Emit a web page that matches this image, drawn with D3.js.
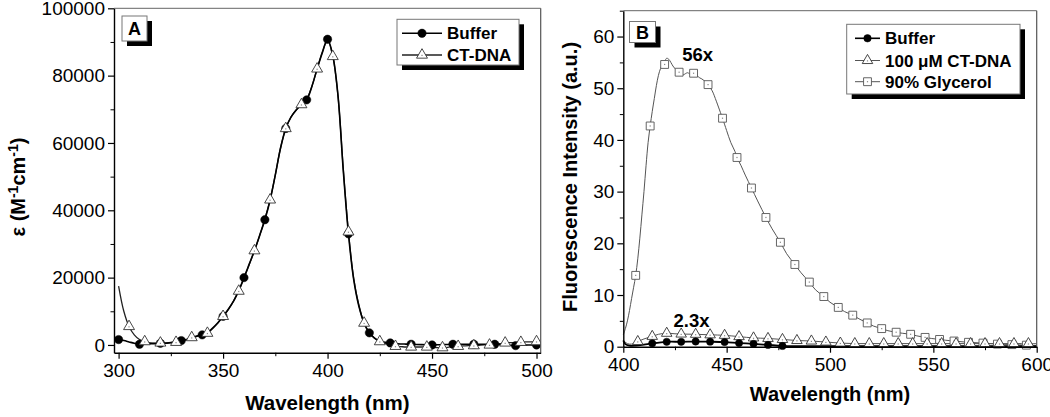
<!DOCTYPE html>
<html><head><meta charset="utf-8">
<script src="https://cdn.jsdelivr.net/npm/d3@7/dist/d3.min.js"></script>
<style>
body{margin:0;background:#fff}
svg{display:block}
text{font-family:Arial,"Liberation Sans",Helvetica,sans-serif;fill:#000}
</style>
</head><body>
<svg id="c" width="1050" height="417"></svg>
<script>
// ---------------- Panel A data (absorption) ----------------
const wavelengthA = [300,302.5,305,307.5,310,312.5,315,317.5,320,322.5,325,327.5,330,332.5,335,337.5,340,342.5,345,347.5,
  350,352.5,355,357.5,360,362.5,365,367.5,370,372.5,375,377.5,380,382.5,385,387.5,390,392.5,395,397.5,
  400,402.5,405,407.5,410,412.5,415,417.5,420,422.5,425,427.5,430,432.5,435,437.5,440,442.5,445,447.5,
  450,452.5,455,457.5,460,462.5,465,467.5,470,472.5,475,477.5,480,482.5,485,487.5,490,492.5,495,497.5,500];
const bufferA = [1600,1300,900,500,200,300,400,400,500,500,700,900,1300,1600,2100,2600,3000,3600,5000,6600,
  8500,10600,13000,16200,20000,24000,28000,32500,37200,43000,50500,58500,64300,67700,69800,71400,72800,76800,82000,86800,
  90800,86000,74000,52000,33000,19500,11500,6500,3600,2000,1100,800,600,400,300,250,200,150,100,50,
  0,50,100,150,200,200,200,200,200,200,200,200,200,100,0,-100,-200,-100,-50,0,0];
const ctdnaA = [17500,10000,5500,3000,1600,1000,600,500,600,600,700,800,1200,1600,2200,2700,3100,3500,4900,6500,
  8500,10500,13000,16000,19800,23800,28000,32500,37500,43100,50500,58500,64300,67700,69800,71400,73000,76800,82000,87000,
  90500,85700,74000,52500,33600,19800,11800,6500,3600,2000,1000,500,100,-400,-500,-600,-600,-600,-600,-600,
  -700,-800,-800,-700,-500,-400,-300,-200,-200,-100,0,0,200,400,600,700,700,800,900,900,1000];
const bufferAMarks = [300,310,320,330,340,350,360,370,380,390,400,410,420,430,440,450,460,470,480,490,500];
const ctdnaAMarks = [305,312.5,320,327.5,335,342.5,350,357.5,365,372.5,380,387.5,395,402.5,410,417.5,425,432.5,440,447.5,455,462.5,470,477.5,485,492.5,500];
const xTicksA = [300,350,400,450,500];
const xMinorA = [325,375,425,475];
const yTicksA = [0,20000,40000,60000,80000,100000];
const yMinorA = [10000,30000,50000,70000,90000];
const legendA = ["Buffer","CT-DNA"];

// ---------------- Panel B data (fluorescence) ----------------
const glyWl = [400,401,402,403,404,405,406,407,408,409,410,411,412,413,414,415,416,417,418,419,420,421,422,423,424,425,426,427,428,429,
  430,431,432,433,434,435,436,437,438,439,440,441,443,445,447,448,450,452,454,455,457,459,462,465,469,472,476,479,483,486,
  490,493,497,500,504,507,511,514,518,521,525,528,532,535,539,542,546,549,553,556,560,567,574,581,588,595,600];
const glyVal = [2.3,3.5,5,7,9.3,11.5,13.8,17,21,25.5,30,35,39.5,42.7,45.5,48,50.5,52.5,53.8,54.6,55.2,55.8,55.6,55,54.3,53.8,53.4,53.1,52.8,52.6,
  52.8,53,52.8,52.5,52.7,52.4,52.3,52,51.8,51.5,51.2,50.7,49.5,47.5,45.3,44.2,41.8,39.5,37.8,36.6,35,33.2,30.7,28.2,25,22.8,20.2,18,15.9,14.3,
  12.5,11,9.7,8.6,7.6,6.8,6.1,5.4,4.6,4,3.5,3.1,2.8,2.6,2.4,2.1,1.8,1.6,1.4,1.25,1.1,0.85,0.7,0.5,0.4,0.3,0.25];
const glyMarkWl = [406,413,420,427,434,441,448,455,462,469,476,483,490,497,504,511,518,525,532,539,546,553,560,567,574,581,588,595];
const glyMarkVal = [13.8,42.7,54.6,53.1,52.9,50.7,44.2,36.6,30.7,25.0,20.2,15.9,12.5,9.7,7.6,6.1,4.6,3.5,2.8,2.4,1.8,1.4,1.1,0.85,0.7,0.5,0.4,0.3];

const ctWl = [400,402,404,407,410,414,417,421,425,428,435,442,449,456,463,470,477,484,491,498,505,512,519,526,533,540,547,554,561,568,575,582,589,596,600];
const ctVal = [1.2,0.6,0.5,1.0,1.5,2.0,2.4,2.6,2.5,2.45,2.4,2.3,2.2,1.95,1.7,1.6,1.4,1.2,1.1,0.9,0.7,0.6,0.6,0.6,0.6,0.6,0.6,0.6,0.6,0.6,0.6,0.6,0.6,0.6,0.6];
const ctMarkWl = [407,414,421,428,435,442,449,456,463,470,477,484,491,498,505,512,519,526,533,540,547,554,561,568,575,582,589,596];
const ctMarkVal = [1.0,2.0,2.6,2.45,2.4,2.3,2.2,1.95,1.7,1.6,1.4,1.2,1.1,0.9,0.7,0.6,0.6,0.6,0.6,0.6,0.6,0.6,0.6,0.6,0.6,0.6,0.6,0.6];

const bufWl = [400,401,403,406,410,414,421,428,435,442,449,456,463,470,477,484,490,500,520,540,560,580,600];
const bufVal = [1.2,0.5,0.2,0.2,0.4,0.65,0.95,0.95,1.0,0.97,0.9,0.7,0.55,0.35,0.15,0.1,0.1,0.1,0.1,0.1,0.1,0.1,0.1];
const bufMarkWl = [414,421,428,435,442,449,456,463,470,477];
const bufMarkVal = [0.65,0.95,0.95,1.0,0.97,0.9,0.7,0.55,0.35,0.15];

const xTicksB = [400,450,500,550,600];
const xMinorB = [425,475,525,575];
const yTicksB = [0,10,20,30,40,50,60];
const yMinorB = [5,15,25,35,45,55,65];
const legendB = ["Buffer","100 \u03bcM CT-DNA","90% Glycerol"];
const annotB = [{t:"56x", wl:436, v:55.2},{t:"2.3x", wl:433, v:3.8}];

// ---------------- drawing ----------------
const svg = d3.select("#c");
const TICKFONT = 19;

function sym(type, size){ return d3.symbol().type(type).size(size)(); }
const markerStyles = {
  circle:   {type:d3.symbolCircle, fill:"#000", stroke:"#000", sw:0.5},
  triangle: {type:d3.symbolTriangle, fill:"#fff", stroke:"#333", sw:0.9},
  square:   {type:d3.symbolSquare, fill:"#fff", stroke:"#555", sw:0.9}
};
function drawMarker(g, kind, size, cx, cy){
  const s = markerStyles[kind];
  const mg = g.append("g").attr("transform",`translate(${cx},${cy})`);
  mg.append("path").attr("d", sym(s.type,size)).attr("fill",s.fill).attr("stroke",s.stroke).attr("stroke-width",s.sw);
  if(kind!=="circle") mg.append("rect").attr("x",-0.6).attr("y",kind==="triangle"?-0.2:-0.6).attr("width",1.2).attr("height",1.2).attr("fill","#888");
}

function axes(g, x, y, c){
  const [x0,x1] = c.xRange, [yb,yt] = c.yRange;
  g.append("line").attr("x1",x0).attr("x2",x1).attr("y1",yt).attr("y2",yt).attr("stroke","#666").attr("stroke-width",1);
  g.append("line").attr("x1",x1).attr("x2",x1).attr("y1",yt).attr("y2",yb).attr("stroke","#555").attr("stroke-width",1.2);
  g.append("g").attr("transform",`translate(0,${yb})`)
    .call(d3.axisBottom(x).tickValues(c.xMinor).tickSize(3.5).tickFormat(""))
    .call(s=>s.select(".domain").remove());
  g.append("g").attr("transform",`translate(${x0},0)`)
    .call(d3.axisLeft(y).tickValues(c.yMinor.filter(v=>v>=c.yDomain[0]&&v<=c.yDomain[1])).tickSize(3.5).tickFormat(""))
    .call(s=>s.select(".domain").remove());
  const xa = g.append("g").attr("transform",`translate(0,${yb})`)
    .call(d3.axisBottom(x).tickValues(c.xTicks).tickSize(6).tickSizeOuter(0).tickPadding(c.xPad));
  const ya = g.append("g").attr("transform",`translate(${x0},0)`)
    .call(d3.axisLeft(y).tickValues(c.yTicks).tickSize(6).tickSizeOuter(0).tickPadding(3).tickFormat(d3.format("d")));
  [xa,ya].forEach(a=>{
    a.attr("font-family",null).attr("font-size",null);
    a.selectAll("text").style("font-size",TICKFONT+"px");
    a.selectAll("line").attr("stroke","#000").attr("stroke-width",1.2);
    a.select(".domain").attr("stroke","#000").attr("stroke-width",1.4);
  });
}

function labelBox(g, t, x0, y0, w, h){
  g.append("rect").attr("x",x0+5).attr("y",y0+5).attr("width",w).attr("height",h).attr("fill","#000");
  g.append("rect").attr("x",x0).attr("y",y0).attr("width",w).attr("height",h).attr("fill","#fff").attr("stroke","#777").attr("stroke-width",1);
  g.append("text").attr("x",x0+w/2).attr("y",y0+h/2+6.5).attr("text-anchor","middle")
    .style("font-size","18px").style("font-weight","bold").text(t);
}

function legend(g, items, kinds, colors, widths, box, rows, sx0, sx1, tx, fs, msize){
  g.append("rect").attr("x",box[0]+5).attr("y",box[1]+5).attr("width",box[2]).attr("height",box[3]).attr("fill","#000");
  g.append("rect").attr("x",box[0]).attr("y",box[1]).attr("width",box[2]).attr("height",box[3]).attr("fill","#fff").attr("stroke","#777").attr("stroke-width",1);
  items.forEach((name,i)=>{
    const yy = rows[i];
    g.append("line").attr("x1",sx0).attr("x2",sx1).attr("y1",yy).attr("y2",yy).attr("stroke",colors[i]).attr("stroke-width",widths[i]);
    drawMarker(g, kinds[i], msize[i], (sx0+sx1)/2, yy);
    g.append("text").attr("x",tx).attr("y",yy+6).style("font-size",fs+"px").style("font-weight","bold").text(name);
  });
}

// ===== Panel A =====
(function(){
  const c = {xDomain:[297.8,502], xRange:[114,540.7], yDomain:[-2300,100000], yRange:[352.7,8.3],
             xTicks:xTicksA, xMinor:xMinorA, yTicks:yTicksA, yMinor:yMinorA, xPad:5};
  const x = d3.scaleLinear().domain(c.xDomain).range(c.xRange);
  const y = d3.scaleLinear().domain(c.yDomain).range(c.yRange);
  const g = svg.append("g");
  g.append("clipPath").attr("id","clipA").append("rect").attr("x",114).attr("y",8.3).attr("width",426.7).attr("height",344.4);
  const line = d3.line().x(d=>x(d[0])).y(d=>y(d[1])).curve(d3.curveCatmullRom.alpha(0.5));
  const lg = g.append("g").attr("clip-path","url(#clipA)");
  lg.append("path").attr("d", line(wavelengthA.map((w,i)=>[w,ctdnaA[i]]))).attr("fill","none").attr("stroke","#222").attr("stroke-width",1.3);
  lg.append("path").attr("d", line(wavelengthA.map((w,i)=>[w,bufferA[i]]))).attr("fill","none").attr("stroke","#000").attr("stroke-width",1.6);
  const val = (arr,w)=>arr[wavelengthA.indexOf(w)];
  bufferAMarks.forEach(w=>drawMarker(lg,"circle",55,x(w),y(val(bufferA,w))));
  ctdnaAMarks.forEach(w=>drawMarker(lg,"triangle",52,x(w),y(val(ctdnaA,w))));
  axes(g,x,y,c);
  g.append("text").attr("x",(114+540.7)/2).attr("y",410).attr("text-anchor","middle")
    .style("font-size","20.5px").style("font-weight","bold").text("Wavelength (nm)");
  const yt = g.append("text").attr("transform","translate(25,187) rotate(-90)").attr("text-anchor","middle")
    .style("font-size","20px").style("font-weight","bold");
  yt.append("tspan").text("\u03b5 (M");
  yt.append("tspan").attr("dy",-7).style("font-size","14px").text("-1");
  yt.append("tspan").attr("dy",7).text("cm");
  yt.append("tspan").attr("dy",-7).style("font-size","14px").text("-1");
  yt.append("tspan").attr("dy",7).text(")");
  labelBox(g,"A",122,16,25,25);
  legend(g, legendA, ["circle","triangle"], ["#000","#222"], [1.6,1.3], [397,19.3,122,45.7], [33.3,55], 402, 442, 447, 17, [55,52]);
})();

// ===== Panel B =====
(function(){
  const c = {xDomain:[400,600], xRange:[623.3,1036.7], yDomain:[0,65], yRange:[346.7,10.7],
             xTicks:xTicksB, xMinor:xMinorB, yTicks:yTicksB, yMinor:yMinorB, xPad:5};
  const x = d3.scaleLinear().domain(c.xDomain).range(c.xRange);
  const y = d3.scaleLinear().domain(c.yDomain).range(c.yRange);
  const g = svg.append("g");
  const line = d3.line().x(d=>x(d[0])).y(d=>y(d[1])).curve(d3.curveCatmullRom.alpha(0.5));
  g.append("path").attr("d", line(glyWl.map((w,i)=>[w,glyVal[i]]))).attr("fill","none").attr("stroke","#555").attr("stroke-width",1);
  g.append("path").attr("d", line(ctWl.map((w,i)=>[w,ctVal[i]]))).attr("fill","none").attr("stroke","#555").attr("stroke-width",1);
  g.append("path").attr("d", line(bufWl.map((w,i)=>[w,bufVal[i]]))).attr("fill","none").attr("stroke","#000").attr("stroke-width",1.8);
  glyMarkWl.forEach((w,i)=>drawMarker(g,"square",62,x(w),y(glyMarkVal[i])));
  ctMarkWl.forEach((w,i)=>drawMarker(g,"triangle",48,x(w),y(ctMarkVal[i])));
  bufMarkWl.forEach((w,i)=>drawMarker(g,"circle",42,x(w),y(bufMarkVal[i])));
  axes(g,x,y,c);
  annotB.forEach(a=>g.append("text").attr("x",x(a.wl)).attr("y",y(a.v)).attr("text-anchor","middle")
    .style("font-size","18.5px").style("font-weight","bold").text(a.t));
  g.append("text").attr("x",(623.3+1036.7)/2).attr("y",401).attr("text-anchor","middle")
    .style("font-size","20px").style("font-weight","bold").text("Wavelength (nm)");
  g.append("text").attr("transform","translate(577,177) rotate(-90)").attr("text-anchor","middle")
    .style("font-size","20px").style("font-weight","bold").text("Fluorescence Intensity (a.u.)");
  labelBox(g,"B",629.5,21.5,26,21);
  legend(g, legendB, ["circle","triangle","square"], ["#000","#555","#555"], [1.6,1,1], [846.7,24.3,173.3,69.7], [38.3,60.5,81.7], 855, 880, 885, 17, [44,48,62]);
})();
</script>
</body></html>
